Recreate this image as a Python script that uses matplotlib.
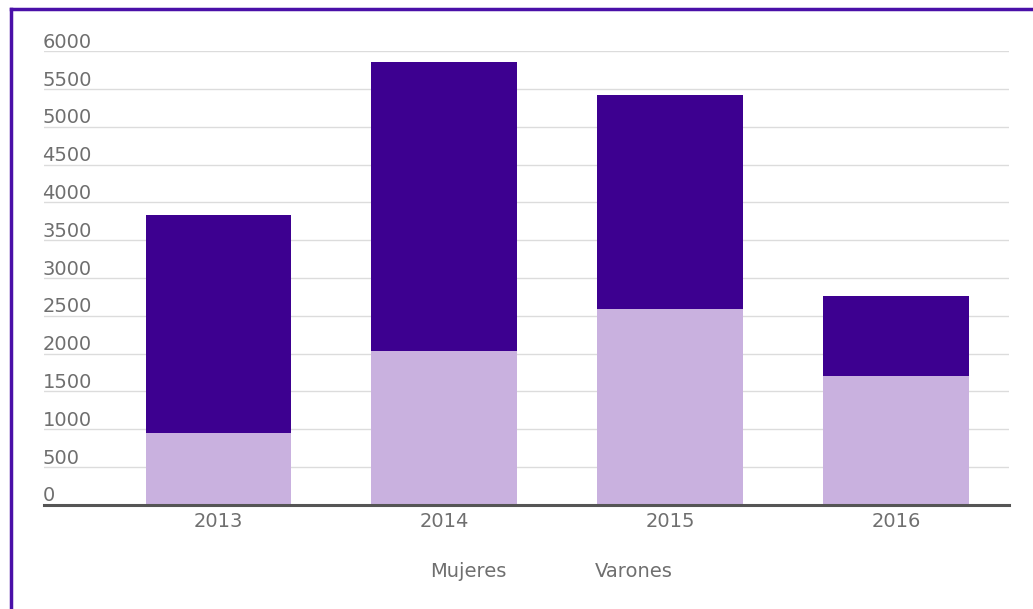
import matplotlib.pyplot as plt
from matplotlib.lines import Line2D
import matplotlib.transforms as mtransforms

# Datos
anios = ["2013", "2014", "2015", "2016"]
mujeres = [955, 2040, 2585, 1710]
varones = [2880, 3810, 2840, 1050]
ticks_y = [0, 500, 1000, 1500, 2000, 2500, 3000, 3500, 4000, 4500, 5000, 5500, 6000]

color_muj = "#C9B1DF"
color_var = "#3D0090"
gris = "#6f6f6f"

fig = plt.figure(figsize=(10.33, 6.09), dpi=100)
ax = fig.add_axes([0.043, 0.171, 0.934, 0.745])

x = range(len(anios))
ax.bar(x, mujeres, width=0.645, color=color_muj, zorder=2)
ax.bar(x, varones, width=0.645, bottom=mujeres, color=color_var, zorder=2)

ax.set_xlim(-0.77, 3.5)
ax.set_ylim(0, 6000)

# líneas de la grilla
for t in ticks_y[1:]:
    ax.axhline(t, color="#dcdcdc", lw=1.0, zorder=1)
ax.axhline(0, color="#555555", lw=2.2, zorder=3, clip_on=False)

for s in ax.spines.values():
    s.set_visible(False)
ax.set_yticks([])
ax.set_xticks(list(x))
ax.set_xticklabels(anios, fontsize=14, color=gris)
ax.tick_params(axis="x", length=0, pad=5)

# etiquetas del eje y encima de las líneas
trans = mtransforms.blended_transform_factory(ax.transAxes, ax.transData)
for t in ticks_y:
    ax.text(-0.002, t + 45, str(t), transform=trans, ha="left", va="baseline",
            fontsize=14, color=gris)

# leyenda sin marcadores
fig.text(0.453, 0.053, "Mujeres", fontsize=14, color=gris, ha="center")
fig.text(0.614, 0.053, "Varones", fontsize=14, color=gris, ha="center")

# marco morado (izquierda y arriba)
fig.add_artist(Line2D([0.0102, 0.0102], [0, 0.986], transform=fig.transFigure,
                      color="#4A10A8", lw=2.5))
fig.add_artist(Line2D([0.0102, 1], [0.986, 0.986], transform=fig.transFigure,
                      color="#4A10A8", lw=2.5))

fig.savefig("out.png", dpi=100)
